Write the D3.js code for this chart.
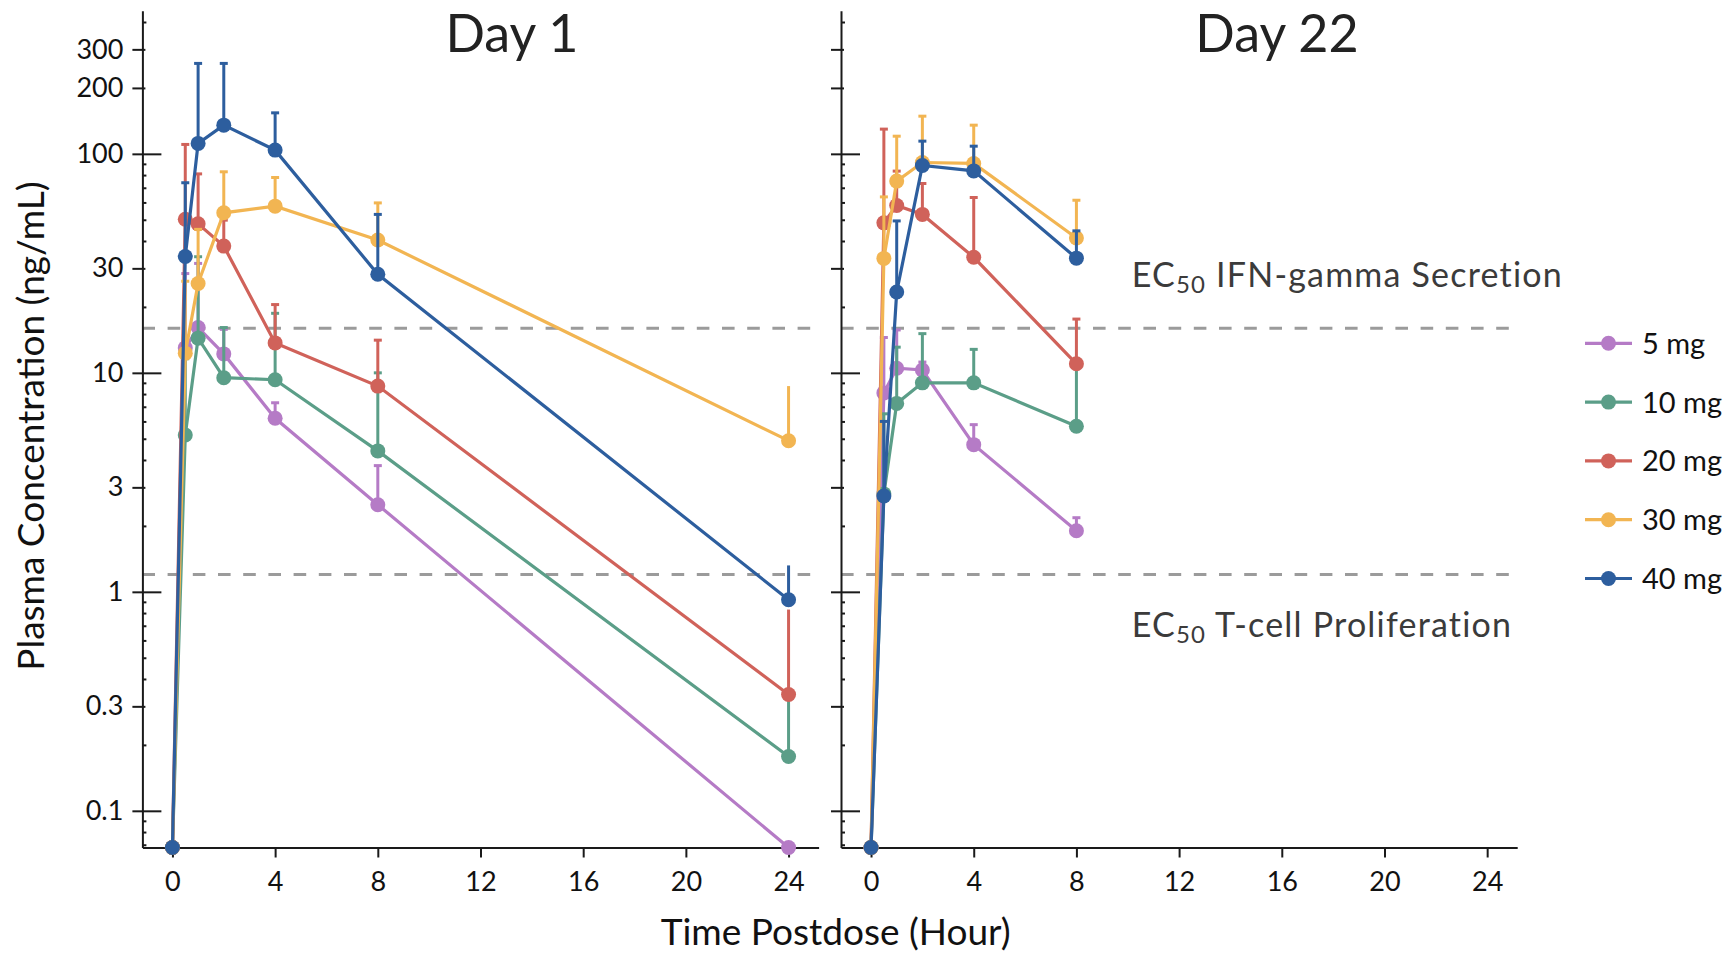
<!DOCTYPE html>
<html><head><meta charset="utf-8">
<script src="https://cdn.jsdelivr.net/npm/d3@7"></script>
<style>
html,body{margin:0;padding:0;background:#fff;}
svg{display:block;font-family:Lato,"Noto Sans",sans-serif;}
</style></head>
<body><svg id="c" width="1731" height="955"></svg>
<script>
// ---------------- data ----------------
const doses = ["5 mg","10 mg","20 mg","30 mg","40 mg"];
const colors = ["#B57BC6","#5B9E88","#D0625A","#F2B552","#2D5E9E"];
const xTicks = [0,4,8,12,16,20,24];
const yLabelTicks = [0.1,0.3,1,3,10,30,100,200,300];
const yDecadeTicks = [0.1,1,10,100];
const ec50Values = [16,1.2];
const ec50Labels = ["IFN-gamma Secretion","T-cell Proliferation"];
const panelTitles = ["Day 1","Day 22"];

const day1Times = [0,0.5,1,2,4,8,24];
const day1Mean5 = [0,13.0,16.1,12.2,6.2,2.5,0];
const day1Mean10 = [0,5.2,14.4,9.5,9.3,4.4,0.177];
const day1Mean20 = [0,50.3,47.9,37.9,13.7,8.7,0.34];
const day1Mean30 = [0,12.3,25.6,53.8,57.7,40.4,4.9];
const day1Mean40 = [0,34.0,111.6,135.2,104,28.2,0.92];
const day1Upper5 = [null,28.4,31.6,15.8,7.3,3.77,null];
const day1Upper10 = [null,11.6,33.9,16.1,18.7,10.0,0.33];
const day1Upper20 = [null,110.4,81.0,49.8,20.5,14.1,0.83];
const day1Upper30 = [null,26.2,45.2,82.8,78.0,59.7,8.7];
const day1Upper40 = [null,73.8,258.8,258.8,153.9,52.9,1.32];

const day22Times = [0,0.5,1,2,4,8];
const day22Mean5 = [0,8.1,10.5,10.3,4.7,1.9];
const day22Mean10 = [0,2.8,7.25,9.0,9.0,5.7];
const day22Mean20 = [0,48.4,58.1,52.9,33.7,11.0];
const day22Mean30 = [0,33.3,75.1,91.3,90.4,41.3];
const day22Mean40 = [0,2.74,23.4,88.5,83.6,33.4];
const day22Upper5 = [null,14.5,15.7,11.2,5.8,2.18];
const day22Upper10 = [null,6.5,13.1,15.1,12.8,10.8];
const day22Upper20 = [null,129.7,83.4,73.2,63.2,17.6];
const day22Upper30 = [null,63.6,120.4,148.6,135.2,61.4];
const day22Upper40 = [null,6.0,49.4,114.3,108.4,44.5];

const panels = [
  {times: day1Times, means:[day1Mean5,day1Mean10,day1Mean20,day1Mean30,day1Mean40],
   uppers:[day1Upper5,day1Upper10,day1Upper20,day1Upper30,day1Upper40]},
  {times: day22Times, means:[day22Mean5,day22Mean10,day22Mean20,day22Mean30,day22Mean40],
   uppers:[day22Upper5,day22Upper10,day22Upper20,day22Upper30,day22Upper40]}
];

// ---------------- layout ----------------
const svg = d3.select("#c");
const yMin = 0.068, yMax = 450;
const y = d3.scaleLog().domain([yMin,yMax]).range([847.5,10.8]);
const xRanges = [[142.4,818.6],[841,1517.2]];
const titleX = [512,1277];
const axisColor = "#1a1a1a";
const R = 7.5, LW = 3.2;

const minorTicks = [];
[0.01,0.1,1,10,100].forEach(d=>{for(let k=2;k<=9;k++){const v=+(d*k).toFixed(6); if(v>=yMin&&v<=yMax&&![0.3,3,30,200,300].includes(v)) minorTicks.push(v);}});

panels.forEach((p,pi)=>{
  const x = d3.scaleLinear().domain([-1.17,25.17]).range(xRanges[pi]);
  const g = svg.append("g");
  const x0 = xRanges[pi][0];

  // dashed EC50 lines
  ec50Values.forEach(v=>{
    g.append("line").attr("x1",x0).attr("x2",xRanges[pi][1])
      .attr("y1",y(v)).attr("y2",y(v))
      .attr("stroke","#9b9b9b").attr("stroke-width",3).attr("stroke-dasharray","12.6,12.6");
  });

  // x axis
  const xa = g.append("g").attr("transform",`translate(0,${y(yMin)})`)
    .call(d3.axisBottom(x).tickValues(xTicks).tickSize(10).tickPadding(14).tickSizeOuter(0));
  // y axes
  const ya = g.append("g").attr("transform",`translate(${x0},0)`)
    .call(d3.axisLeft(y).tickValues(yLabelTicks).tickSize(10).tickPadding(9).tickSizeOuter(0)
      .tickFormat(pi===0 ? (d=>d3.format("~g")(d)) : ()=>""));
  const yin = g.append("g").attr("transform",`translate(${x0},0)`)
    .call(d3.axisRight(y).tickValues(yDecadeTicks).tickSize(19).tickFormat(()=>"").tickSizeOuter(0));
  const yin2 = g.append("g").attr("transform",`translate(${x0},0)`)
    .call(d3.axisRight(y).tickValues(yLabelTicks.filter(v=>!yDecadeTicks.includes(v))).tickSize(3).tickFormat(()=>"").tickSizeOuter(0));
  const ymin = g.append("g").attr("transform",`translate(${x0},0)`)
    .call(d3.axisRight(y).tickValues(minorTicks).tickSize(4).tickFormat(()=>"").tickSizeOuter(0));
  [xa,ya,yin,yin2,ymin].forEach(a=>{
    a.selectAll("path.domain").attr("stroke",axisColor).attr("stroke-width",2);
    a.selectAll(".tick line").attr("stroke",axisColor).attr("stroke-width",2);
    a.selectAll(".tick text").attr("fill","#111").style("font-size","27px").style("font-family","Lato");
  });
  yin.selectAll("path.domain").remove();
  yin2.selectAll("path.domain").remove();
  ymin.selectAll("path.domain").remove();

  // title
  g.append("text").attr("x",titleX[pi]).attr("y",52).attr("text-anchor","middle")
    .style("font-size","52px").attr("fill","#222").text(panelTitles[pi]);

  // series
  p.means.forEach((m,si)=>{
    const pts = p.times.map((t,i)=>({t, v:m[i], u:p.uppers[si][i]}));
    const sg = g.append("g");
    const yy = v=>y(Math.max(v,yMin));
    sg.append("path").datum(pts)
      .attr("d",d3.line().x(d=>x(d.t)).y(d=>yy(d.v)))
      .attr("fill","none").attr("stroke",colors[si]).attr("stroke-width",LW);
    const eb = pts.filter(d=>d.u!=null);
    sg.selectAll("line.eb").data(eb).join("line").attr("class","eb")
      .attr("x1",d=>x(d.t)).attr("x2",d=>x(d.t))
      .attr("y1",d=>yy(d.v)).attr("y2",d=>y(d.u))
      .attr("stroke",colors[si]).attr("stroke-width",3);
    sg.selectAll("line.cap").data(eb.filter(d=>d.t<24)).join("line").attr("class","cap")
      .attr("x1",d=>x(d.t)-4).attr("x2",d=>x(d.t)+4)
      .attr("y1",d=>y(d.u)).attr("y2",d=>y(d.u))
      .attr("stroke",colors[si]).attr("stroke-width",3);
    sg.selectAll("circle").data(pts).join("circle")
      .attr("cx",d=>x(d.t)).attr("cy",d=>yy(d.v)).attr("r",R)
      .attr("fill",colors[si]);
  });
});

// EC50 text labels
ec50Values.forEach((v,i)=>{
  const t = svg.append("text").attr("x",1131.7).attr("y",[286.7,636.7][i])
    .style("font-size","34px").style("letter-spacing","1.2px").attr("fill","#3b3b3b");
  t.append("tspan").text("EC");
  t.append("tspan").text("50").style("font-size","24px").attr("dy",6);
  t.append("tspan").text(" "+ec50Labels[i]).attr("dy",-6);
});

// axis titles
svg.append("text").attr("transform","translate(44.3,426) rotate(-90)").attr("text-anchor","middle")
  .style("font-size","37px").attr("fill","#111").text("Plasma Concentration (ng/mL)");
svg.append("text").attr("x",835.7).attr("y",945).attr("text-anchor","middle")
  .style("font-size","37px").attr("fill","#111").text("Time Postdose (Hour)");

// legend
const lg = svg.append("g");
doses.forEach((d,i)=>{
  const ry = 343.3 + i*58.8;
  lg.append("line").attr("x1",1585).attr("x2",1632).attr("y1",ry).attr("y2",ry)
    .attr("stroke",colors[i]).attr("stroke-width",LW);
  lg.append("circle").attr("cx",1608.5).attr("cy",ry).attr("r",R).attr("fill",colors[i]);
  lg.append("text").attr("x",1642).attr("y",ry).attr("dy","0.36em")
    .style("font-size","29px").attr("fill","#111").text(d);
});
</script></body></html>
